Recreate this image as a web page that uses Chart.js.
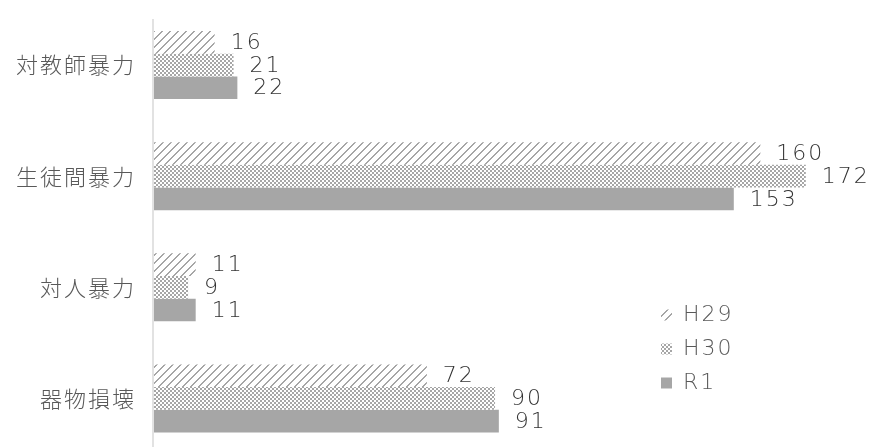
<!DOCTYPE html>
<html>
<head>
<meta charset="utf-8">
<script src="https://cdn.jsdelivr.net/npm/chart.js@4.4.1/dist/chart.umd.min.js"></script>
<style>
  html, body { margin: 0; padding: 0; background: #ffffff; overflow: hidden; }
  #wrap { width: 879px; height: 447px; overflow: hidden; }
  canvas { display: block; }
</style>
</head>
<body>
<div id="wrap"><canvas id="c" width="879" height="454"></canvas></div>
<script>
// ---- data ----
const categories = ['対教師暴力', '生徒間暴力', '対人暴力', '器物損壊'];
const seriesNames = ['H29', 'H30', 'R1'];
const valuesH29 = [16, 160, 11, 72];
const valuesH30 = [21, 172, 9, 90];
const valuesR1 = [22, 153, 11, 91];

// ---- patterns ----
function makePattern(kind) {
  const size = 8;
  const pc = document.createElement('canvas');
  pc.width = size; pc.height = size;
  const p = pc.getContext('2d');
  p.fillStyle = '#ffffff';
  p.fillRect(0, 0, size, size);
  p.fillStyle = '#a6a6a6';
  for (let y = 0; y < size; y++) {
    for (let x = 0; x < size; x++) {
      let on = false;
      if (kind === 'diag') on = ((x + y) % 8) < 2;
      else if (kind === 'check') on = ((Math.floor(x / 2) + Math.floor(y / 2)) % 2) === 0;
      if (on) p.fillRect(x, y, 1, 1);
    }
  }
  return document.getElementById('c').getContext('2d').createPattern(pc, 'repeat');
}
const fillH29 = makePattern('diag');
const fillH30 = makePattern('check');
const fillR1 = '#a6a6a6';

const catFont = '"Noto Sans CJK JP", "Noto Sans", sans-serif';
const numFont = '"DejaVu Sans", "Noto Sans", sans-serif';

const valueLabels = {
  id: 'valueLabels',
  afterDatasetsDraw(chart) {
    const ctx = chart.ctx;
    ctx.save();
    ctx.letterSpacing = '2px';
    ctx.font = '200 22px ' + numFont;
    ctx.fillStyle = '#333333';
    ctx.textAlign = 'left';
    ctx.textBaseline = 'middle';
    chart.data.datasets.forEach((ds, di) => {
      const meta = chart.getDatasetMeta(di);
      meta.data.forEach((bar, i) => {
        ctx.fillText(String(ds.data[i]), bar.x + 16, bar.y + 1);
      });
    });
    ctx.restore();
  }
};

const axisLine = {
  id: 'axisLine',
  beforeDatasetsDraw(chart) {
    const ctx = chart.ctx;
    const x = chart.scales.x.getPixelForValue(0) - 1;
    ctx.save();
    ctx.strokeStyle = '#d9d9d9';
    ctx.lineWidth = 1.5;
    ctx.beginPath();
    ctx.moveTo(x, chart.chartArea.top + 9.5);
    ctx.lineTo(x, chart.chartArea.bottom);
    ctx.stroke();
    ctx.restore();
  }
};

const spacing = {
  id: 'spacing',
  beforeDraw(chart) { chart.ctx.letterSpacing = '2px'; },
  afterDraw(chart) { chart.ctx.letterSpacing = '0px'; }
};

const legendPlace = {
  id: 'legendPlace',
  afterLayout(chart) {
    const lg = chart.legend;
    if (!lg) return;
    const left = 649, top = 292;
    lg.left = left; lg.top = top;
    lg.width = 200; lg.height = 150;
    lg.right = left + 200; lg.bottom = top + 150;
  },
  beforeLegendDraw(chart) { chart.ctx.letterSpacing = '2px'; },
  afterLegendDraw(chart) { chart.ctx.letterSpacing = '0px'; }
};

new Chart(document.getElementById('c'), {
  type: 'bar',
  data: {
    labels: categories,
    datasets: [
      { label: seriesNames[0], data: valuesH29, backgroundColor: fillH29, borderWidth: 0 },
      { label: seriesNames[1], data: valuesH30, backgroundColor: fillH30, borderWidth: 0 },
      { label: seriesNames[2], data: valuesR1, backgroundColor: fillR1, borderWidth: 0 }
    ]
  },
  options: {
    indexAxis: 'y',
    responsive: false,
    animation: false,
    devicePixelRatio: 1,
    layout: { padding: { top: 9.5, right: 5, bottom: 0, left: 0 } },
    datasets: { bar: { categoryPercentage: 0.613, barPercentage: 1.0 } },
    scales: {
      x: { display: false, min: 0, max: 190 },
      y: {
        grid: { display: false, drawTicks: false },
        border: { display: false },
        ticks: {
          color: '#595959',
          padding: 18,
          font: { family: catFont, size: 22, weight: '300' }
        },
        afterFit(scale) {
          scale.width = 154;
          scale.paddingTop = 0;
          scale.paddingBottom = 0;
        }
      }
    },
    plugins: {
      tooltip: { enabled: false },
      legend: {
        position: 'chartArea',
        align: 'start',
        labels: {
          boxWidth: 11,
          boxHeight: 11,
          padding: 12,
          color: '#595959',
          font: { family: numFont, size: 22, weight: '200' }
        }
      }
    }
  },
  plugins: [spacing, axisLine, valueLabels, legendPlace]
});
</script>
</body>
</html>
